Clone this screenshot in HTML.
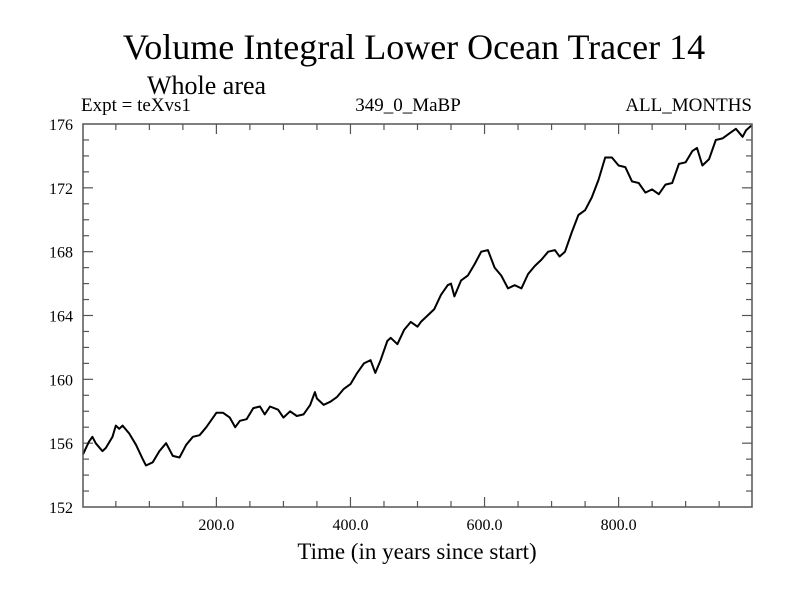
<!DOCTYPE html>
<html><head><meta charset="utf-8"><style>
body{margin:0;background:#fff}
svg{display:block;font-family:"Liberation Serif",serif}
</style></head><body>
<svg id="chart" width="800" height="600">
<rect width="800" height="600" fill="#fff"/>
<text x="414" y="59" font-size="36" text-anchor="middle">Volume Integral Lower Ocean Tracer 14</text>
<text x="147" y="94" font-size="26">Whole area</text>
<text x="81" y="111" font-size="19">Expt = teXvs1</text>
<text x="408" y="111" font-size="19" text-anchor="middle">349_0_MaBP</text>
<text x="752" y="111" font-size="19" text-anchor="end">ALL_MONTHS</text>
<text x="417" y="559" font-size="23" text-anchor="middle">Time (in years since start)</text>
<g id="axes"></g>
<path id="series" fill="none" stroke="#000" stroke-width="2" stroke-linejoin="round"/>
<rect x="83" y="124" width="669" height="383" fill="none" stroke="#555" stroke-width="1.5"/>
</svg>
<script>
const years=[1,10,15,20,30,35,45,50,55,60,70,80,90,95,105,115,125,135,145,155,165,175,185,200,210,220,228,235,245,255,265,272,280,292,300,310,320,330,340,347,350,360,370,380,390,400,410,420,430,437,445,455,460,470,480,490,500,505,515,525,535,545,550,555,565,575,585,595,605,615,625,635,645,655,665,675,685,695,705,712,720,730,740,750,760,770,780,790,800,810,820,830,840,850,860,870,880,890,900,910,917,925,935,945,955,965,975,985,990,998];
const values=[155.3,156.1,156.4,156.0,155.5,155.7,156.4,157.1,156.9,157.1,156.6,155.9,155.0,154.6,154.8,155.5,156.0,155.2,155.1,155.9,156.4,156.5,157.0,157.9,157.9,157.6,157.0,157.4,157.5,158.2,158.3,157.8,158.3,158.1,157.6,158.0,157.7,157.8,158.4,159.2,158.8,158.4,158.6,158.9,159.4,159.7,160.4,161.0,161.2,160.4,161.2,162.4,162.6,162.2,163.1,163.6,163.3,163.6,164.0,164.4,165.3,165.9,166.0,165.2,166.2,166.5,167.2,168.0,168.1,167.0,166.5,165.7,165.9,165.7,166.6,167.1,167.5,168.0,168.1,167.7,168.0,169.2,170.3,170.6,171.4,172.5,173.9,173.9,173.4,173.3,172.4,172.3,171.7,171.9,171.6,172.2,172.3,173.5,173.6,174.3,174.5,173.4,173.8,175.0,175.1,175.4,175.7,175.2,175.6,175.9];
const xTicks=[200,400,600,800];
const xTickLabels=["200.0","400.0","600.0","800.0"];
const yTicks=[152,156,160,164,168,172,176];
const yTickLabels=["152","156","160","164","168","172","176"];
const X0=83,X1=752,Y0=507,Y1=124,xmin=1,xmax=999,ymin=152,ymax=176;
const sx=v=>X0+(v-xmin)/(xmax-xmin)*(X1-X0);
const sy=v=>Y0-(v-ymin)/(ymax-ymin)*(Y0-Y1);
const NS="http://www.w3.org/2000/svg";
const g=document.getElementById('axes');
function ln(x1,y1,x2,y2,name){const l=document.createElementNS(NS,'line');
l.setAttribute('x1',x1);l.setAttribute('y1',y1);l.setAttribute('x2',x2);l.setAttribute('y2',y2);
l.setAttribute('stroke','#555');l.setAttribute('stroke-width','1.2');


g.appendChild(l);}
function tx(x,y,s,anchor,name){const t=document.createElementNS(NS,'text');
t.setAttribute('x',x);t.setAttribute('y',y);t.setAttribute('font-size','16');t.setAttribute('text-anchor',anchor);t.textContent=s;


g.appendChild(t);}
for(let v=50;v<xmax;v+=50){const x=sx(v);const major=v%200===0;const L=major?10:6;
ln(x,Y0,x,Y0-L,'x-tick');ln(x,Y1,x,Y1+L,'x-tick-top');}
for(let v=ymin+1;v<ymax;v++){const y=sy(v);const major=v%4===0;const L=major?10:6;
ln(X0,y,X0+L,y,'y-tick');ln(X1,y,X1-L,y,'y-tick-right');}
xTicks.forEach((v,i)=>tx(sx(v),530,xTickLabels[i],'middle','x-tick-label'));
yTicks.forEach((v,i)=>tx(73,sy(v)+6,yTickLabels[i],'end','y-tick-label'));
document.getElementById('series').setAttribute('d',years.map((t,i)=>(i?'L':'M')+sx(t).toFixed(1)+','+sy(values[i]).toFixed(1)).join(''));
</script>
</body></html>
